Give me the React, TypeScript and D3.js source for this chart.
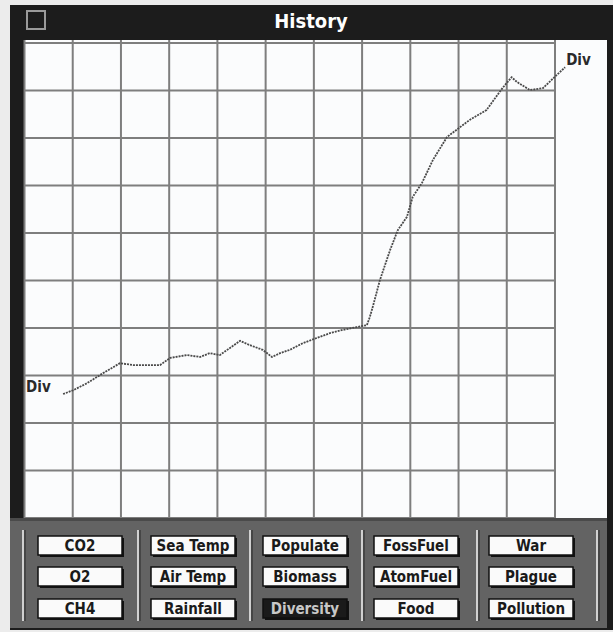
import React from "react";
import * as d3 from "d3";

// Diversity history (x in grid columns, y in grid rows)
const timeSteps = [0.8,1.01,1.3,1.63,1.98,2.25,2.81,3.02,3.37,3.64,3.84,4.05,4.47,4.67,4.94,5.13,5.3,5.5,5.77,6.06,6.33,6.6,6.89,7.1,7.16,7.22,7.37,7.58,7.74,7.93,8.05,8.24,8.47,8.76,9.23,9.58,9.91,10.1,10.21,10.48,10.75,11.04,11.21];
const diversity = [2.61,2.69,2.84,3.05,3.26,3.22,3.22,3.37,3.43,3.39,3.47,3.43,3.73,3.64,3.54,3.39,3.47,3.54,3.68,3.79,3.89,3.96,4.02,4.06,4.23,4.44,5.01,5.64,6.06,6.34,6.76,7.05,7.54,8.02,8.38,8.59,9.05,9.28,9.18,9.01,9.05,9.33,9.49];
const gridCols = d3.range(0, 12);
const gridRows = d3.range(0, 11);
const buttonCols = [
  ["CO2", "O2", "CH4"],
  ["Sea Temp", "Air Temp", "Rainfall"],
  ["Populate", "Biomass", "Diversity"],
  ["FossFuel", "AtomFuel", "Food"],
  ["War", "Plague", "Pollution"],
];
const selected = "Diversity";
const seriesLabel = "Div";
const title = "History";

export default function App() {
  const W = 613, H = 632;
  const x = d3.scaleLinear().domain([0, 11]).range([24.5, 555]);
  const y = d3.scaleLinear().domain([0, 10]).range([518, 43]);
  const line = d3.line<number>().x((_, i) => x(timeSteps[i])).y((d) => y(d));
  const pathD = line(diversity) || "";
  const colLeft = [38, 151, 263, 374, 489];
  const rowTop = [536, 567, 599];
  const seps = [23, 138, 250, 362, 477, 597];
  const font = "'DejaVu Sans Condensed', 'DejaVu Sans', sans-serif";
  const n = diversity.length;
  return (
    <svg width={W} height={H} style={{ position: "absolute", left: 0, top: 0 }}>
      <rect x={0} y={0} width={W} height={H} fill="#ececec" />
      {/* window frame */}
      <rect x={10} y={5} width={603} height={625} fill="#1c1c1c" />
      {/* title */}
      <rect x={27} y={11} width={18} height={18} fill="none" stroke="#9a9a9a" strokeWidth={2} />
      <text x={311} y={28} textAnchor="middle" fill="#fff" fontFamily={font} fontWeight="bold" fontSize={20}>{title}</text>
      {/* plot area */}
      <rect x={25} y={40} width={582} height={478} fill="#fbfcfd" />
      {gridCols.map((c) => (
        <line key={"c" + c} x1={x(c)} x2={x(c)} y1={40} y2={518} stroke="#7e7e7e" strokeWidth={2} />
      ))}
      {gridRows.map((r) => (
        <line key={"r" + r} x1={25} x2={x(11)} y1={y(r)} y2={y(r)} stroke="#7e7e7e" strokeWidth={2} />
      ))}
      <path d={pathD} fill="none" stroke="#4a4a4a" strokeWidth={1.8} strokeDasharray="2 1" />
      <text x={x(timeSteps[0]) - 37} y={y(diversity[0]) - 2} fill="#2a2a2a" fontFamily={font} fontWeight="bold" fontSize={15}>{seriesLabel}</text>
      <text x={x(timeSteps[n - 1]) + 1} y={y(diversity[n - 1]) - 2} fill="#2a2a2a" fontFamily={font} fontWeight="bold" fontSize={15}>{seriesLabel}</text>
      {/* button panel */}
      <rect x={10} y={518} width={597} height={110} fill="#636363" />
      <rect x={10} y={518} width={597} height={3} fill="#4a4a4a" />
      {seps.map((s, i) => (
        <g key={"s" + i}>
          <line x1={s} x2={s} y1={530} y2={621} stroke="#d0d0d0" strokeWidth={2} />
          <line x1={s + 2} x2={s + 2} y1={530} y2={621} stroke="#2a2a2a" strokeWidth={1} />
        </g>
      ))}
      {buttonCols.map((col, ci) =>
        col.map((label, ri) => {
          const bx = colLeft[ci], by = rowTop[ri];
          const sel = label === selected;
          return (
            <g key={label}>
              <rect x={bx + 2} y={by + 2} width={84} height={19} fill="#111" />
              <rect x={bx} y={by} width={84} height={19} fill={sel ? "#1a1a1a" : "#fafafa"} stroke="#111" strokeWidth={1.5} />
              <text x={bx + 42} y={by + 15} textAnchor="middle" fill={sel ? "#c8c8c8" : "#1a1a1a"} fontFamily={font} fontWeight={600} fontSize={15}>{label}</text>
            </g>
          );
        })
      )}
    </svg>
  );
}
